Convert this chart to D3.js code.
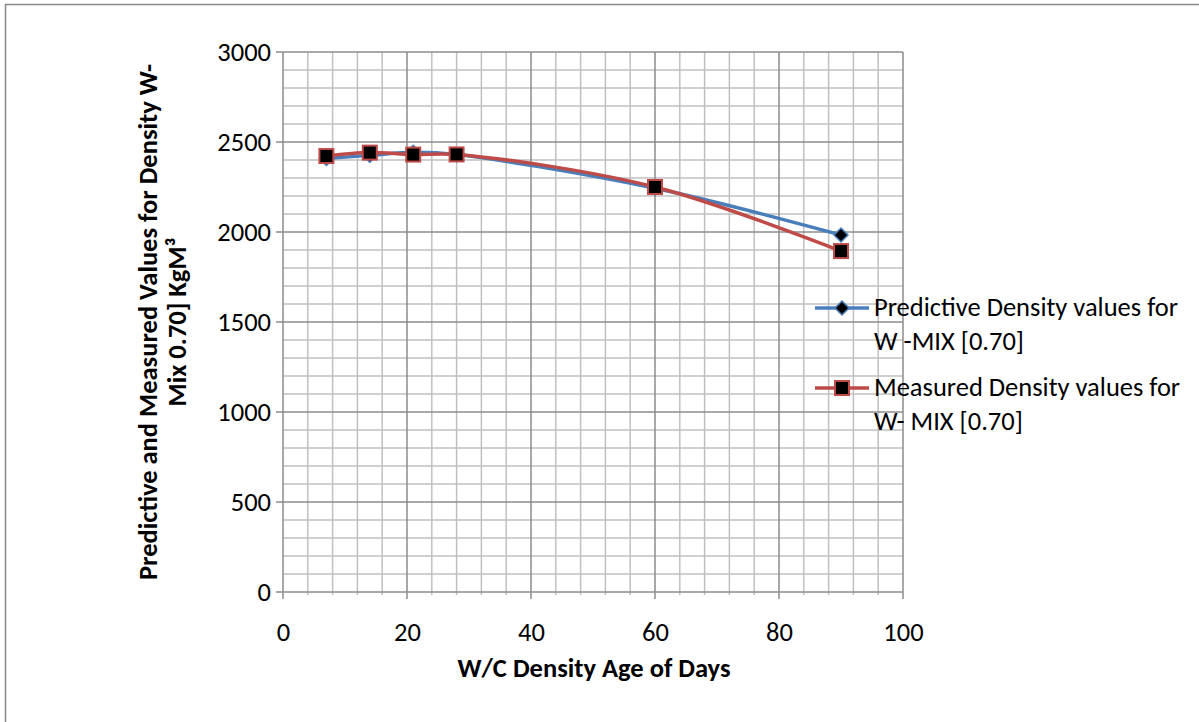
<!DOCTYPE html>
<html>
<head>
<meta charset="utf-8">
<script src="https://cdn.jsdelivr.net/npm/d3@7"></script>
<style>
  html, body { margin: 0; padding: 0; background: #fff; }
  svg { display: block; font-family: Carlito, Calibri, "Open Sans", sans-serif; }
</style>
</head>
<body>
<svg id="chart" width="1199" height="722"></svg>
<script>
// Curing age in days
const ages = [7, 14, 21, 28, 60, 90];
// Density values (kg/m³) for W-MIX [0.70]
const predictive = [2408, 2426, 2443, 2430, 2243, 1983];
const measured = [2422, 2441, 2430, 2431, 2250, 1894];

const xTicks = [0, 20, 40, 60, 80, 100];
const yTicks = [0, 500, 1000, 1500, 2000, 2500, 3000];

const seriesNames = [
  ["Predictive Density values for", "W -MIX [0.70]"],
  ["Measured Density values for", "W- MIX [0.70]"]
];

const FONT = 26.5;
const svg = d3.select("#chart");

// outer chart frame
svg.append("rect")
  .attr("x", 5.5).attr("y", 4.5)
  .attr("width", 1400).attr("height", 900)
  .attr("fill", "none").attr("stroke", "#888").attr("stroke-width", 1.5);

const plot = { left: 283, right: 903, top: 52, bottom: 592 };

const x = d3.scaleLinear().domain([0, 100]).range([plot.left, plot.right]);
const y = d3.scaleLinear().domain([0, 3000]).range([plot.bottom, plot.top]);

const grid = svg.append("g");

// minor grid
d3.range(0, 101, 4).filter(v => v % 20 !== 0).forEach(v => {
  grid.append("line")
    .attr("x1", x(v)).attr("x2", x(v))
    .attr("y1", plot.top).attr("y2", plot.bottom + 3)
    .attr("stroke", "#c0c0c0").attr("stroke-width", 1.5);
});
d3.range(0, 3001, 100).filter(v => v % 500 !== 0).forEach(v => {
  grid.append("line")
    .attr("x1", plot.left).attr("x2", plot.right)
    .attr("y1", y(v)).attr("y2", y(v))
    .attr("stroke", "#c0c0c0").attr("stroke-width", 1.5);
});

// major grid
xTicks.forEach(v => {
  grid.append("line")
    .attr("x1", x(v)).attr("x2", x(v))
    .attr("y1", plot.top).attr("y2", plot.bottom + 7)
    .attr("stroke", "#8c8c8c").attr("stroke-width", 1.5);
});
yTicks.forEach(v => {
  grid.append("line")
    .attr("x1", plot.left - 7).attr("x2", plot.right)
    .attr("y1", y(v)).attr("y2", y(v))
    .attr("stroke", "#8c8c8c").attr("stroke-width", 1.5);
});

// axes (labels only; lines drawn with the grid)
const xAxis = svg.append("g")
  .attr("transform", `translate(0,${plot.bottom})`)
  .call(d3.axisBottom(x).tickValues(xTicks).tickFormat(d3.format("d")).tickSize(0));
const yAxis = svg.append("g")
  .attr("transform", `translate(${plot.left},0)`)
  .call(d3.axisLeft(y).tickValues(yTicks).tickFormat(d3.format("d")).tickSize(0).tickPadding(12));
[xAxis, yAxis].forEach(a => {
  a.select(".domain").remove();
  a.attr("font-family", null).attr("font-size", null);
  a.selectAll("text").attr("font-size", FONT).attr("fill", "#000");
});
xAxis.selectAll("text").attr("dy", null).attr("y", 49);

// axis titles
svg.append("text")
  .attr("x", 594).attr("y", 677)
  .attr("text-anchor", "middle")
  .attr("font-weight", "bold").attr("font-size", FONT)
  .text("W/C Density Age of Days");

const yTitle = svg.append("text")
  .attr("transform", "rotate(-90)")
  .attr("text-anchor", "middle")
  .attr("font-weight", "bold").attr("font-size", FONT);
yTitle.append("tspan").attr("x", -322).attr("y", 157)
  .text("Predictive and Measured Values for Density W-");
yTitle.append("tspan").attr("x", -322).attr("y", 186)
  .text("Mix 0.70] KgM³");

// series
const line = d3.line().curve(d3.curveCatmullRom.alpha(0.5))
  .x(d => x(d[0])).y(d => y(d[1]));

const predPts = ages.map((a, i) => [a, predictive[i]]);
const measPts = ages.map((a, i) => [a, measured[i]]);

const diamond = "M0,-7L7,0L0,7L-7,0Z";

svg.append("path").datum(predPts)
  .attr("d", line).attr("fill", "none")
  .attr("stroke", "#4a7ebb").attr("stroke-width", 3.5);

svg.selectAll(".pm").data(predPts).enter().append("path")
  .attr("transform", d => `translate(${x(d[0])},${y(d[1])})`)
  .attr("d", diamond)
  .attr("fill", "#000").attr("stroke", "#4a7ebb").attr("stroke-width", 1.5);

svg.append("path").datum(measPts)
  .attr("d", line).attr("fill", "none")
  .attr("stroke", "#be4b48").attr("stroke-width", 3.5);

svg.selectAll(".mm").data(measPts).enter().append("rect")
  .attr("x", d => x(d[0]) - 7).attr("y", d => y(d[1]) - 7)
  .attr("width", 14).attr("height", 14)
  .attr("fill", "#000").attr("stroke", "#be4b48").attr("stroke-width", 2);

// legend
const legend = svg.append("g");
const legY = [308, 388];
const legColors = ["#4a7ebb", "#be4b48"];
legY.forEach((ly, i) => {
  legend.append("line")
    .attr("x1", 815).attr("x2", 869).attr("y1", ly).attr("y2", ly)
    .attr("stroke", legColors[i]).attr("stroke-width", 3.5);
  if (i === 0) {
    legend.append("path")
      .attr("transform", `translate(842,${ly})`)
      .attr("d", diamond)
      .attr("fill", "#000").attr("stroke", legColors[i]).attr("stroke-width", 1.5);
  } else {
    legend.append("rect")
      .attr("x", 835).attr("y", ly - 7).attr("width", 14).attr("height", 14)
      .attr("fill", "#000").attr("stroke", legColors[i]).attr("stroke-width", 2);
  }
  const t = legend.append("text").attr("font-size", FONT);
  t.append("tspan").attr("x", 874).attr("y", ly + 8).text(seriesNames[i][0]);
  t.append("tspan").attr("x", 874).attr("y", ly + 42).text(seriesNames[i][1]);
});
</script>
</body>
</html>
